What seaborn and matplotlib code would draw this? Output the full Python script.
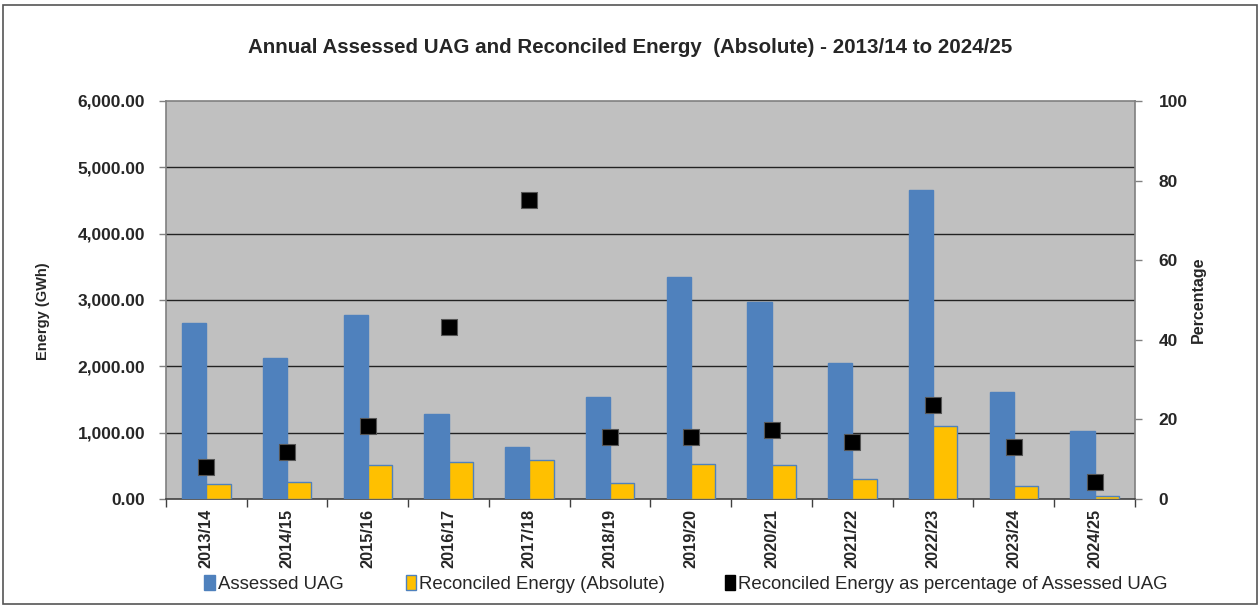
import matplotlib
matplotlib.use("Agg")
import matplotlib.pyplot as plt
import matplotlib.patches as mpatches
from matplotlib.ticker import FuncFormatter, FixedLocator
import seaborn as sns
import pandas as pd

years = ["2013/14", "2014/15", "2015/16", "2016/17", "2017/18", "2018/19",
         "2019/20", "2020/21", "2021/22", "2022/23", "2023/24", "2024/25"]
assessed_uag = [2650, 2121, 2774, 1277, 779, 1533, 3343, 2970, 2046, 4660, 1618, 1030]
reconciled_abs = [222, 252, 513, 553, 588, 236, 528, 518, 297, 1106, 201, 45]
reconciled_pct = [8.0, 11.7, 18.3, 43.2, 75.1, 15.7, 15.7, 17.3, 14.2, 23.5, 13.0, 4.35]

S1 = "Assessed UAG"
S2 = "Reconciled Energy (Absolute)"
S3 = "Reconciled Energy as percentage of Assessed UAG"
BLUE = "#4F81BD"
YELLOW = "#FFC000"

sns.set_theme(style="white")
plt.rcParams["font.family"] = ["Liberation Sans", "DejaVu Sans"]

df = pd.DataFrame({
    "year": years * 2,
    "value": assessed_uag + reconciled_abs,
    "series": [S1] * len(years) + [S2] * len(years),
})

fig = plt.figure(figsize=(12.6, 6.05), dpi=100)
ax = fig.add_axes([0.1317, 0.1752, 0.7691, 0.6579])
ax.set_facecolor("#C0C0C0")

sns.barplot(data=df, x="year", y="value", hue="series", palette=[BLUE, YELLOW],
            width=0.6, saturation=1, ax=ax, legend=False, zorder=3)
for p in ax.patches:
    p.set_edgecolor(BLUE)
    p.set_linewidth(1.0)

ax.set_xlim(-0.5, len(years) - 0.5)
ax.set_ylim(0, 6000)
ax.set_yticks(range(0, 6001, 1000))
ax.yaxis.set_major_formatter(FuncFormatter(lambda v, p: f"{v:,.2f}"))
ax.grid(False)
for y in range(1000, 6000, 1000):
    ax.axhline(y, color="#222222", lw=1.0, zorder=1)

ax.set_xlabel("")
ax.set_ylabel("Energy (GWh)", fontsize=10.5, fontweight="bold")
ax.yaxis.set_label_coords(-0.12, 0.472)
ax.tick_params(axis="y", which="major", left=True, length=5, width=1, color="#808080",
               labelsize=12.5, pad=10)
for lab in ax.get_yticklabels():
    lab.set_fontweight("bold")
ax.set_xticks(range(len(years)))
ax.set_xticklabels(years, rotation=90, fontsize=11.8, fontweight="bold")
ax.tick_params(axis="x", which="major", length=0, pad=7)
ax.xaxis.set_minor_locator(FixedLocator([i - 0.5 for i in range(len(years) + 1)]))
ax.tick_params(axis="x", which="minor", bottom=True, length=6, width=1, color="#404040")
for s in ax.spines.values():
    s.set_color("#808080")
    s.set_linewidth(1.2)
ax.spines["bottom"].set_color("#404040")

ax2 = ax.twinx()
sns.scatterplot(x=list(range(len(years))), y=reconciled_pct, marker="s", s=130,
                color="black", edgecolor="#555555", linewidth=0.8, ax=ax2, zorder=5)
ax2.set_ylim(0, 100)
ax2.set_yticks(range(0, 101, 20))
ax2.tick_params(axis="y", right=True, length=5, width=1, color="#808080",
                labelsize=12.5, pad=12)
for lab in ax2.get_yticklabels():
    lab.set_fontweight("bold")
ax2.set_ylabel("Percentage", fontsize=11.5, fontweight="bold")
ax2.yaxis.set_label_coords(1.058, 0.5)
ax2.grid(False)
for s in ax2.spines.values():
    s.set_visible(False)

fig.suptitle("Annual Assessed UAG and Reconciled Energy  (Absolute) - 2013/14 to 2024/25",
             x=0.5, y=0.937, fontsize=14.8, fontweight="bold")

handles = [
    mpatches.Patch(facecolor=BLUE, edgecolor=BLUE, label=S1),
    mpatches.Patch(facecolor=YELLOW, edgecolor=BLUE, label=S2),
    mpatches.Patch(facecolor="black", edgecolor="black", label=S3),
]
for h, x0 in zip(handles, [0.1623, 0.322, 0.575]):
    fig.legend(handles=[h], loc="center left", bbox_to_anchor=(x0, 0.035),
               frameon=False, fontsize=13.4, handlelength=0.55, handleheight=0.85,
               handletextpad=0.15, borderpad=0, borderaxespad=0)

border = mpatches.Rectangle((0.002, 0.002), 0.996, 0.99, transform=fig.transFigure,
                            fill=False, edgecolor="#555555", lw=1.2)
fig.patches.append(border)

fig.savefig("out.png", dpi=100, facecolor="white")
